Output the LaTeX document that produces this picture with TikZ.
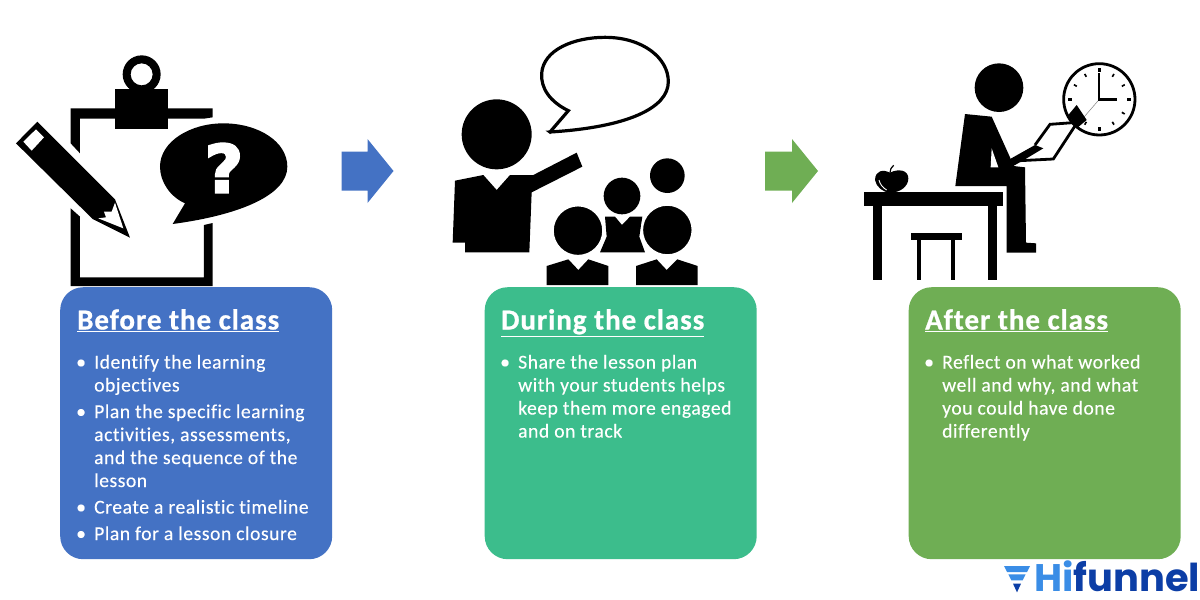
\documentclass[tikz,border=0pt]{standalone}
\usepackage{fontspec}
\setmainfont[Ligatures=NoCommon]{Carlito}
\newfontfamily\bodyfont[Ligatures=NoCommon,LetterSpace=2.8,FakeBold=0.3]{Carlito}
\newfontfamily\titlefont[Ligatures=NoCommon,LetterSpace=3.3,BoldFont={Carlito Bold},BoldFeatures={FakeBold=0.8}]{Carlito}
\newfontfamily\logofont{Poppins}
\newfontfamily\qfont[FakeBold=3.5]{DejaVu Sans Bold}
\definecolor{blueBox}{HTML}{4472C4}
\definecolor{tealBox}{HTML}{3CBD8C}
\definecolor{greenBox}{HTML}{6FAE54}
\definecolor{logoLight}{HTML}{3A8DE6}
\definecolor{logoDark}{HTML}{0C3EA6}
\tikzset{
  panel/.style={rounded corners=23pt,draw=none,minimum width=272pt,minimum height=272pt,inner sep=0pt,anchor=north west},
  paneltitle/.style={anchor=base west,inner sep=0pt,text=white,font=\fontsize{29}{32}\titlefont\bfseries},
  panelbody/.style={anchor=north west,inner sep=0pt,text=white,align=left,font=\fontsize{19.6}{23}\bodyfont},
  ink/.style={fill=black,draw=none},
  halo/.style={fill=black,draw=white,line width=2.2pt,line join=round},
}
\newcommand{\ttl}[1]{\underline{#1}}
\newcommand{\itm}{\makebox[18pt][l]{•}}
\newcommand{\ind}{\hspace*{18pt}}
\begin{document}
\begin{tikzpicture}[x=1pt,y=-1pt]
\useasboundingbox (0,0) rectangle (1200,600);
\fill[white] (0,0) rectangle (1200,600);

% ---- clipboard, pencil, question bubble
\begin{scope}[shift={(0,40)},scale=1/3]
  \fill[ink] (212,205) -- (638,205) -- (638,232) -- (612,236) -- (240,236) -- (240,340) -- (212,310) -- cycle;
  \fill[ink] (212,505) -- (240,530) -- (240,712) -- (612,712) -- (612,555) -- (638,549) -- (638,738) -- (212,738) -- cycle;
  \fill[ink] (346,148) rectangle (504,268);
  \fill[ink,even odd rule] (425,103) circle[radius=57] (425,103) circle[radius=33];
  % pencil
  \fill[ink] (48,310) -- (112,245) -- (345,478) -- (390,593) -- (278,537) -- cycle;
  \fill[white] (70,305) -- (108,268) -- (132,292) -- (95,332) -- cycle;
  \fill[white] (345,488) -- (370,565) -- (295,535) -- (318,532) -- (312,515) -- (335,515) -- cycle;
  % bubble
  \fill[ink] (518,552) -- (555,490) .. controls (510,470) and (480,425) .. (480,380)
     .. controls (480,305) and (570,250) .. (670,250)
     .. controls (775,250) and (862,305) .. (862,380)
     .. controls (862,465) and (720,525) .. cycle;
\end{scope}
\node[inner sep=0pt,text=white,font=\fontsize{66}{66}\qfont] (qmark) at (224,168) {?};

% ---- arrows
\fill[blueBox] (341.5,151.5) -- (367.5,151.5) -- (367.5,139) -- (393.5,171) -- (367.5,203) -- (367.5,190.5) -- (341.5,190.5) -- cycle;
\fill[greenBox] (765,151.5) -- (792,151.5) -- (792,139) -- (818,171) -- (792,203) -- (792,190.5) -- (765,190.5) -- cycle;

% ---- teacher and students
\begin{scope}[shift={(430,40)},scale=1/3]
  \draw[black,line width=3.2pt,fill=white,line join=miter] (360,276) -- (415,212)
     .. controls (360,185) and (332,145) .. (335,100)
     .. controls (340,30) and (430,-8) .. (525,-8)
     .. controls (640,-8) and (715,55) .. (715,125)
     .. controls (715,205) and (590,262) .. cycle;
  \fill[ink] (200,283) circle[radius=105];
  \fill[ink] (75,422) -- (160,405) -- (200,450) -- (240,405) -- (310,405) -- (440,338) -- (457,380) -- (305,457) -- (298,637) -- (105,637) -- (105,608) -- (68,608) -- cycle;
  \fill[ink] (712,407) circle[radius=52];
  \fill[ink] (576,468) circle[radius=55];
  \fill[ink] (525,530) -- (555,530) -- (576,555) -- (600,530) -- (637,530) -- (628,590) -- (645,637) -- (510,637) -- (530,590) -- cycle;
  \draw[halo] (444,572) circle[radius=76];
  \draw[halo] (712,570) circle[radius=76];
  \fill[ink] (350,678) -- (415,658) -- (445,690) -- (475,658) -- (535,678) -- (535,735) -- (350,735) -- cycle;
  \fill[ink] (618,678) -- (680,658) -- (710,690) -- (742,658) -- (803,678) -- (803,735) -- (618,735) -- cycle;
\end{scope}

% ---- reflecting person
\begin{scope}[shift={(850,50)},scale=1/3]
  % clock
  \draw[black,line width=2.8pt,fill=white] (748,148) circle[radius=107];
  \foreach \a in {0,90,180,270} \fill[ink,rotate around={\a:(748,148)}] (743,54) rectangle (753,66);
  \foreach \a in {30,60,120,150,210,240,300,330} \fill[ink,rotate around={\a:(748,148)}] (745.5,60) rectangle (750.5,70);
  \draw[gray,line width=0.5pt] (748,148) -- (690,215);
  \fill[ink] (745,70) rectangle (751,150);
  \fill[ink] (745,144) rectangle (801,152);
  % person
  \fill[ink] (447,113) circle[radius=73];
  \fill[ink] (345,192) -- (425,200) -- (480,322) -- (490,348) -- (525,352) -- (528,578) -- (558,580) -- (558,608) -- (470,608) -- (470,408) -- (316,408) -- cycle;
  \fill[white] (425,295) -- (445,352) -- (422,352) -- cycle;
  \fill[ink] (475,330) -- (555,285) -- (580,295) -- (525,328) -- (490,348) -- cycle;
  \draw[black,line width=2.8pt,line join=miter] (555,285) -- (600,223) -- (682,217) -- (610,327) -- (510,332);
  \fill[ink] (680,165) -- (710,210) -- (680,235) -- (655,195) -- cycle;
  % desk, stool
  \fill[ink] (42,425) rectangle (458,467);
  \fill[ink] (70,467) rectangle (97,690);
  \fill[ink] (413,467) rectangle (440,690);
  \fill[ink] (182,548) rectangle (335,570);
  \fill[ink] (200,570) rectangle (213,690);
  \fill[ink] (303,570) rectangle (316,690);
  % apple
  \fill[ink] (120,368) .. controls (100,358) and (76,360) .. (75,390)
     .. controls (78,410) and (100,428) .. (120,428)
     .. controls (150,428) and (175,410) .. (175,385)
     .. controls (175,360) and (145,355) .. cycle;
  \draw[black,line width=1.2pt] (120,368) .. controls (120,358) and (124,352) .. (131,346);
  \draw[white,line width=0.9pt] (87,390) .. controls (90,403) and (98,413) .. (110,420);
\end{scope}

% ---- panels
\node[panel,fill=blueBox] (before) at (60,287) {};
\node[panel,fill=tealBox] (during) at (484.5,287) {};
\node[panel,fill=greenBox] (after) at (908.5,287) {};

\node[paneltitle] (beforeT) at (77,329.5) {\ttl{Before the class}};
\node[paneltitle] (duringT) at (501,329.5) {\ttl{During the class}};
\node[paneltitle] (afterT) at (925,329.5) {\ttl{After the class}};

\node[panelbody] (beforeB) at (76,354.7) {\itm Identify the learning\\\ind objectives\\[3.5pt]
  \itm Plan the specific learning\\\ind activities, assessments,\\\ind and the sequence of the\\\ind lesson\\[3.5pt]
  \itm Create a realistic timeline\\[3.5pt]
  \itm Plan for a lesson closure};
\node[panelbody] (duringB) at (500,354.7) {\itm Share the lesson plan\\\ind with your students helps\\\ind keep them more engaged\\\ind and on track};
\node[panelbody] (afterB) at (924,354.7) {\itm Reflect on what worked\\\ind well and why, and what\\\ind you could have done\\\ind differently};

% ---- logo
\begin{scope}[shift={(990,555)},scale=1/3]
  \fill[logoLight] (42,33) -- (120,33) -- (111,51) -- (51,51) -- cycle;
  \fill[logoLight] (55,58) -- (107,58) -- (98,76) -- (64,76) -- cycle;
  \fill[logoDark] (69,86) -- (93,86) -- (81,112) -- cycle;
\end{scope}
\node[anchor=base west,inner sep=0pt,font=\fontsize{38.4}{38.4}\selectfont\logofont\bfseries] (logo) at (1034,591) {\textcolor{logoLight}{Hi}\textcolor{logoDark}{funnel}};
\end{tikzpicture}
\end{document}
